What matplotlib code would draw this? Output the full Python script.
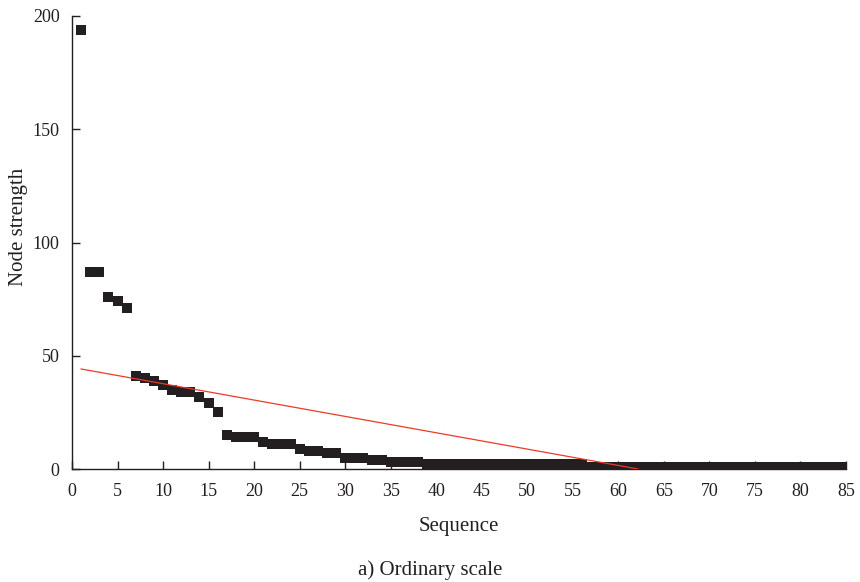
import numpy as np
import matplotlib
matplotlib.use("Agg")
import matplotlib.pyplot as plt

plt.rcParams['font.family'] = ['Liberation Serif', 'DejaVu Serif']

# node strength per sequence position
sequence = np.arange(1, 86)
strength = np.array(
    [194, 87, 87, 76, 74, 71,
     41, 40, 39, 37, 35, 34, 34, 32, 29, 25,
     15, 14, 14, 14,
     12, 11, 11, 11,
     9, 8, 8, 7, 7,
     5, 5, 5, 4, 4,
     3, 3, 3, 3]
    + [2] * 18
    + [1] * 29
)

x_ticks = list(range(0, 86, 5))
y_ticks = [0, 50, 100, 150, 200]

ink = '#231f20'

fig = plt.figure(figsize=(8.6, 5.82), dpi=100)
ax = fig.add_axes([72 / 860, 113 / 582, 774 / 860, 453 / 582])

ax.plot(sequence, strength, 's', color=ink, markersize=7.2, markeredgewidth=0, zorder=3)

# linear trend line, drawn from the first point down to where it crosses zero
slope, intercept = np.polyfit(sequence, strength, 1)
x_end = -intercept / slope
fit_x = np.array([sequence[0], x_end])
ax.plot(fit_x, slope * fit_x + intercept, color='#ee3a24', linewidth=0.9, zorder=4)

ax.set_xlim(0, 85)
ax.set_ylim(0, 200)
ax.set_xticks(x_ticks)
ax.set_yticks(y_ticks)

for side in ['top', 'right']:
    ax.spines[side].set_visible(False)
for side in ['left', 'bottom']:
    ax.spines[side].set_color(ink)
    ax.spines[side].set_linewidth(1.0)

ax.tick_params(direction='in', length=6, width=1.0, color=ink,
               labelsize=13, labelcolor=ink)
ax.tick_params(axis='x', pad=10)
ax.tick_params(axis='y', pad=9)

ax.set_xlabel('Sequence', fontsize=15, color=ink, labelpad=12)
ax.set_ylabel('Node strength', fontsize=15, color=ink)
ax.yaxis.set_label_coords(-44 / 774, 0.535)

fig.text(430 / 860, 12 / 582, 'a) Ordinary scale', fontsize=15, color=ink,
         ha='center', va='center')

fig.savefig('out.png', dpi=100)
